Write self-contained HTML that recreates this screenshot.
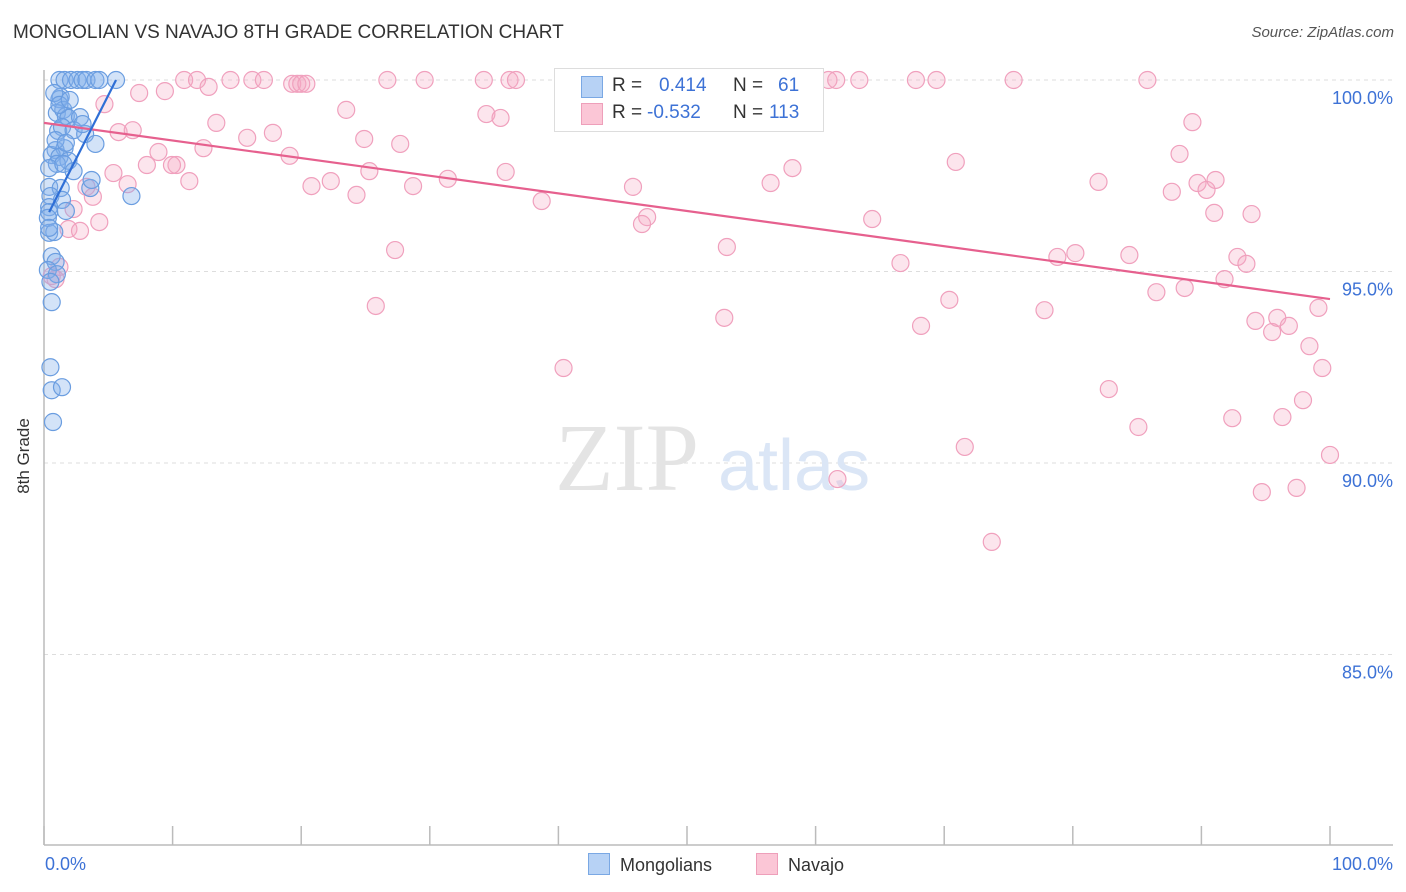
<!DOCTYPE html>
<html><head><meta charset="utf-8"><style>
body{margin:0;background:#fff;font-family:"Liberation Sans",sans-serif;}
#wrap{position:relative;width:1406px;height:892px;overflow:hidden;}
.t{position:absolute;white-space:nowrap;}
</style></head><body><div id="wrap">
<div class="t" style="left:13px;top:22px;font-size:19px;color:#333;">MONGOLIAN VS NAVAJO 8TH GRADE CORRELATION CHART</div>
<div class="t" style="right:12px;top:24px;font-size:15px;color:#555;font-style:italic;">Source: ZipAtlas.com</div>
<div class="t" style="left:-14px;top:446px;font-size:17px;color:#333;transform:rotate(-90deg);">8th Grade</div>
<svg id="svg" width="1406" height="892" style="position:absolute;left:0;top:0"></svg>
</div>
<script>
const xTicks=[0,10,20,30,40,50,60,70,80,90,100];
const yTicks=[100,95,90,85];
const yTickLabels=["100.0%","95.0%","90.0%","85.0%"];
const xLabels=["0.0%","100.0%"];
const mongolians=[[1.2,100],[1.6,100],[2.1,100],[2.6,100],[3.0,100],[3.3,100],[4.0,100],[4.3,100],[5.6,100],[1.3,99.56],[1.2,99.5],[1.0,99.14],[1.5,99.22],[1.7,99.06],[1.9,99.01],[2.8,99.03],[1.1,98.67],[1.4,98.77],[2.3,98.69],[3.2,98.59],[4.0,98.33],[0.9,98.17],[1.6,98.22],[0.6,98.04],[1.2,97.99],[1.9,97.89],[1.0,97.81],[0.4,97.7],[1.5,97.81],[2.3,97.62],[0.4,97.21],[1.3,97.18],[3.6,97.18],[0.5,96.97],[1.4,96.87],[0.4,96.68],[1.7,96.58],[6.8,96.97],[0.4,96.55],[0.3,96.4],[0.4,96.01],[0.8,96.03],[0.6,95.4],[0.9,95.25],[0.3,95.04],[1.0,94.93],[0.5,94.73],[0.6,94.2],[0.5,92.5],[0.6,91.9],[1.4,91.98],[0.7,91.07],[0.4,96.14],[0.9,98.43],[1.7,98.36],[3.0,98.85],[0.8,99.66],[1.2,99.35],[2.0,99.48],[3.7,97.39]];
const navajo=[[4.7,99.37],[5.8,98.64],[6.9,98.69],[7.4,99.66],[9.4,99.71],[10.9,100],[11.9,100],[12.8,99.82],[14.5,100],[16.2,100],[17.1,100],[19.3,99.9],[19.7,99.9],[20.0,99.9],[20.4,99.9],[26.7,100],[29.6,100],[34.2,100],[36.2,100],[36.7,100],[52.5,100],[61.0,100],[61.6,100],[63.4,100],[67.8,100],[69.4,100],[75.4,100],[85.8,100],[23.5,99.22],[34.4,99.11],[35.5,99.01],[13.4,98.88],[15.8,98.49],[17.8,98.62],[24.9,98.46],[27.7,98.33],[12.4,98.22],[8.9,98.12],[10.3,97.78],[9.95,97.78],[8.0,97.78],[5.4,97.57],[11.3,97.36],[6.5,97.28],[3.3,97.21],[3.8,96.95],[2.3,96.63],[4.3,96.29],[1.9,96.11],[2.8,96.06],[19.1,98.02],[20.8,97.23],[22.3,97.36],[24.3,97.0],[25.3,97.62],[28.7,97.23],[31.4,97.42],[35.9,97.6],[38.7,96.84],[45.8,97.21],[46.9,96.42],[46.5,96.24],[56.5,97.31],[58.2,97.7],[70.9,97.86],[64.4,96.37],[82.0,97.34],[88.3,98.07],[89.3,98.9],[87.7,97.08],[89.7,97.31],[90.4,97.13],[91.1,97.39],[91.0,96.53],[93.9,96.5],[27.3,95.56],[25.8,94.1],[53.1,95.64],[52.9,93.79],[66.6,95.22],[68.2,93.58],[70.4,94.26],[77.8,93.99],[78.8,95.38],[80.2,95.48],[84.4,95.43],[86.5,94.46],[88.7,94.57],[91.8,94.8],[92.8,95.38],[93.5,95.2],[94.2,93.71],[95.5,93.42],[95.9,93.79],[96.8,93.58],[98.4,93.05],[99.1,94.05],[99.4,92.48],[97.9,91.64],[96.3,91.2],[92.4,91.17],[82.8,91.93],[85.1,90.94],[71.6,90.42],[61.7,89.58],[73.7,87.94],[94.7,89.24],[97.4,89.35],[100,90.21],[40.4,92.48],[1.2,95.12],[0.9,94.8],[0.6,94.88]];
const blueTrend=[[0.4,96.55],[5.6,100]];
const pinkTrend=[[0,98.88],[100,94.28]];

const NS="http://www.w3.org/2000/svg";
const svg=document.getElementById('svg');
const X=v=>44+v*12.86;
const Y=v=>80+(100-v)*38.3;
function el(tag,attrs){const e=document.createElementNS(NS,tag);for(const k in attrs)e.setAttribute(k,attrs[k]);svg.appendChild(e);return e;}
yTicks.forEach((t,i)=>{
  const g=el('line',{x1:44,x2:1393,y1:Y(t),y2:Y(t),stroke:'#ddd','stroke-dasharray':'4,4'});
  
  
  const tx=el('text',{x:1393,y:Y(t)+24,'text-anchor':'end','font-size':18,fill:'#3d72d6','font-family':'Liberation Sans, sans-serif'});
  tx.textContent=yTickLabels[i];
  
  
});
let a=el('line',{x1:44,x2:44,y1:70,y2:845,stroke:'#bbb','stroke-width':1.5});


a=el('line',{x1:44,x2:1393,y1:845,y2:845,stroke:'#bbb','stroke-width':1.5});


xTicks.forEach(t=>{
  const l=el('line',{x1:X(t),x2:X(t),y1:826,y2:845,stroke:'#bbb','stroke-width':1.5});
  
  
});
let xl=el('text',{x:45,y:870,'font-size':18,fill:'#3d72d6','font-family':'Liberation Sans, sans-serif'});xl.textContent=xLabels[0];


xl=el('text',{x:1393,y:870,'text-anchor':'end','font-size':18,fill:'#3d72d6','font-family':'Liberation Sans, sans-serif'});xl.textContent=xLabels[1];


let w=el('text',{x:555,y:490,'font-size':96,fill:'#e4e4e4','font-family':'Liberation Serif, serif'});w.textContent='ZIP';


w=el('text',{x:718,y:490,'font-size':72,fill:'#dbe6f6','font-family':'Liberation Sans, sans-serif'});w.textContent='atlas';


navajo.forEach(p=>{
  const c=el('circle',{cx:X(p[0]),cy:Y(p[1]),r:8.5,fill:'rgba(246,170,196,0.3)',stroke:'#f0a0bd','stroke-width':1.2});
  
  
});
mongolians.forEach(p=>{
  const c=el('circle',{cx:X(p[0]),cy:Y(p[1]),r:8.5,fill:'rgba(130,175,235,0.35)',stroke:'#6a9de0','stroke-width':1.2});
  
  
});
let tl=el('line',{x1:X(pinkTrend[0][0]),y1:Y(pinkTrend[0][1]),x2:X(pinkTrend[1][0]),y2:Y(pinkTrend[1][1]),stroke:'#e6608e','stroke-width':2.2});


tl=el('line',{x1:X(blueTrend[0][0]),y1:Y(blueTrend[0][1]),x2:X(blueTrend[1][0]),y2:Y(blueTrend[1][1]),stroke:'#2f6fd6','stroke-width':2.2});


</script>
<div style="position:absolute;left:554px;top:68px;width:268px;height:62px;border:1px solid #ddd;background:#fff;font-size:19px;">
 <div style="position:absolute;left:26px;top:7px;width:20px;height:20px;background:#b7d2f5;border:1px solid #7aa8e4;"></div>
 <div class="t" style="left:57px;top:6px;color:#333;">R =</div>
 <div class="t" style="left:104px;top:6px;color:#3d72d6;">0.414</div>
 <div class="t" style="left:178px;top:6px;color:#333;">N =</div>
 <div class="t" style="left:223px;top:6px;color:#3d72d6;">61</div>
 <div style="position:absolute;left:26px;top:34px;width:20px;height:20px;background:#fbc6d6;border:1px solid #ee9fba;"></div>
 <div class="t" style="left:57px;top:33px;color:#333;">R =</div>
 <div class="t" style="left:92px;top:33px;color:#3d72d6;">-0.532</div>
 <div class="t" style="left:178px;top:33px;color:#333;">N =</div>
 <div class="t" style="left:214px;top:33px;color:#3d72d6;">113</div>
</div>
<div style="position:absolute;left:588px;top:853px;font-size:18px;color:#333;">
 <span style="display:inline-block;width:20px;height:20px;background:#b7d2f5;border:1px solid #7aa8e4;vertical-align:-4px;margin-right:10px;"></span>Mongolians</div>
<div style="position:absolute;left:756px;top:853px;font-size:18px;color:#333;">
 <span style="display:inline-block;width:20px;height:20px;background:#fbc6d6;border:1px solid #ee9fba;vertical-align:-4px;margin-right:10px;"></span>Navajo</div>
</body></html>
